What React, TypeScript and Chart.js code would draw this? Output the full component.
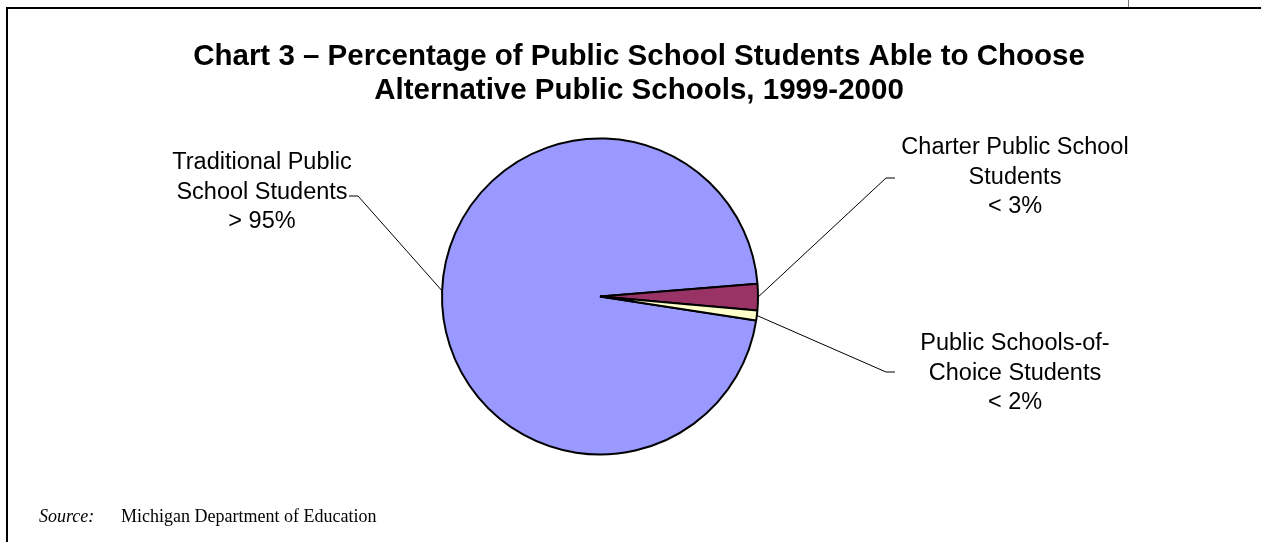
import React, { useEffect, useRef } from "react";
import { Chart, registerables } from "chart.js";

Chart.register(...registerables);

const categories = [
  "Traditional Public School Students",
  "Charter Public School Students",
  "Public Schools-of-Choice Students",
];
const shares = [96.3, 2.7, 1.0];
const sliceColors = ["#9999FF", "#993366", "#FFFFCC"];
const labelLines = [
  ["Traditional Public", "School Students", "> 95%"],
  ["Charter Public School", "Students", "< 3%"],
  ["Public Schools-of-", "Choice Students", "< 2%"],
];
const titleLines = [
  "Chart 3 \u2013 Percentage of Public School Students Able to Choose",
  "Alternative Public Schools, 1999-2000",
];
const sourceLabel = "Source:";
const sourceText = "Michigan Department of Education";

// layout of the callout labels: text centre x, first line y, elbow, tick end
const labelLayout = [
  { cx: 262, y0: 163, elbow: [358, 196], tick: [349, 196] },
  { cx: 1015, y0: 148, elbow: [886, 178], tick: [895, 178] },
  { cx: 1015, y0: 344, elbow: [886, 372], tick: [895, 372] },
];

const W = 1261;
const H = 542;

const decorPlugin = {
  id: "decor",
  afterDraw(chart: any) {
    const ctx = chart.ctx;
    ctx.save();
    // frame
    ctx.strokeStyle = "#000";
    ctx.lineWidth = 2;
    ctx.beginPath();
    ctx.moveTo(7, H);
    ctx.lineTo(7, 8);
    ctx.lineTo(W, 8);
    ctx.stroke();
    ctx.strokeStyle = "#777";
    ctx.lineWidth = 1;
    ctx.beginPath();
    ctx.moveTo(1128.5, 0);
    ctx.lineTo(1128.5, 7);
    ctx.stroke();

    // title
    ctx.fillStyle = "#000";
    ctx.font = "bold 29.5px 'Liberation Sans', Arial, sans-serif";
    ctx.textAlign = "center";
    ctx.textBaseline = "middle";
    titleLines.forEach((t, i) => ctx.fillText(t, 639, 56.5 + i * 34));

    // callouts
    const meta = chart.getDatasetMeta(0);
    meta.data.forEach((arc: any, i: number) => {
      const p = arc.getProps(["x", "y", "startAngle", "endAngle", "outerRadius"], true);
      const mid = (p.startAngle + p.endAngle) / 2;
      const sx = p.x + Math.cos(mid) * p.outerRadius;
      const sy = p.y + Math.sin(mid) * p.outerRadius;
      const L = labelLayout[i];
      ctx.strokeStyle = "#000";
      ctx.lineWidth = 1;
      ctx.beginPath();
      ctx.moveTo(sx, sy);
      ctx.lineTo(L.elbow[0], L.elbow[1]);
      ctx.lineTo(L.tick[0], L.tick[1]);
      ctx.stroke();
      ctx.font = "23.5px 'Liberation Sans', Arial, sans-serif";
      ctx.textAlign = "center";
      ctx.textBaseline = "middle";
      labelLines[i].forEach((t, j) => ctx.fillText(t, L.cx, L.y0 + j * 29.5));
    });

    // source
    ctx.textAlign = "left";
    ctx.textBaseline = "alphabetic";
    ctx.font = "italic 18px 'Liberation Serif', 'Times New Roman', serif";
    ctx.fillText(sourceLabel, 39, 522);
    ctx.font = "18px 'Liberation Serif', 'Times New Roman', serif";
    ctx.fillText(sourceText, 121, 522);
    ctx.restore();
  },
};

export default function App() {
  const ref = useRef<HTMLCanvasElement>(null);
  useEffect(() => {
    document.body.style.margin = "0";
    const chart = new Chart(ref.current as HTMLCanvasElement, {
      type: "pie",
      data: {
        labels: categories,
        datasets: [
          {
            data: shares,
            backgroundColor: sliceColors,
            borderColor: "#000",
            borderWidth: 2,
            radius: 158,
          } as any,
        ],
      },
      options: {
        responsive: false,
        animation: false,
        rotation: 98.7,
        layout: { padding: { left: 430, right: W - 770, top: 126.5, bottom: H - 466.5 } },
        plugins: {
          legend: { display: false },
          title: { display: false },
          tooltip: { enabled: false },
        },
      },
      plugins: [decorPlugin],
    });
    return () => chart.destroy();
  }, []);
  return (
    <div style={{ position: "absolute", left: 0, top: 0, width: W, height: H, background: "#fff" }}>
      <canvas ref={ref} width={W} height={H} style={{ display: "block" }} />
    </div>
  );
}
